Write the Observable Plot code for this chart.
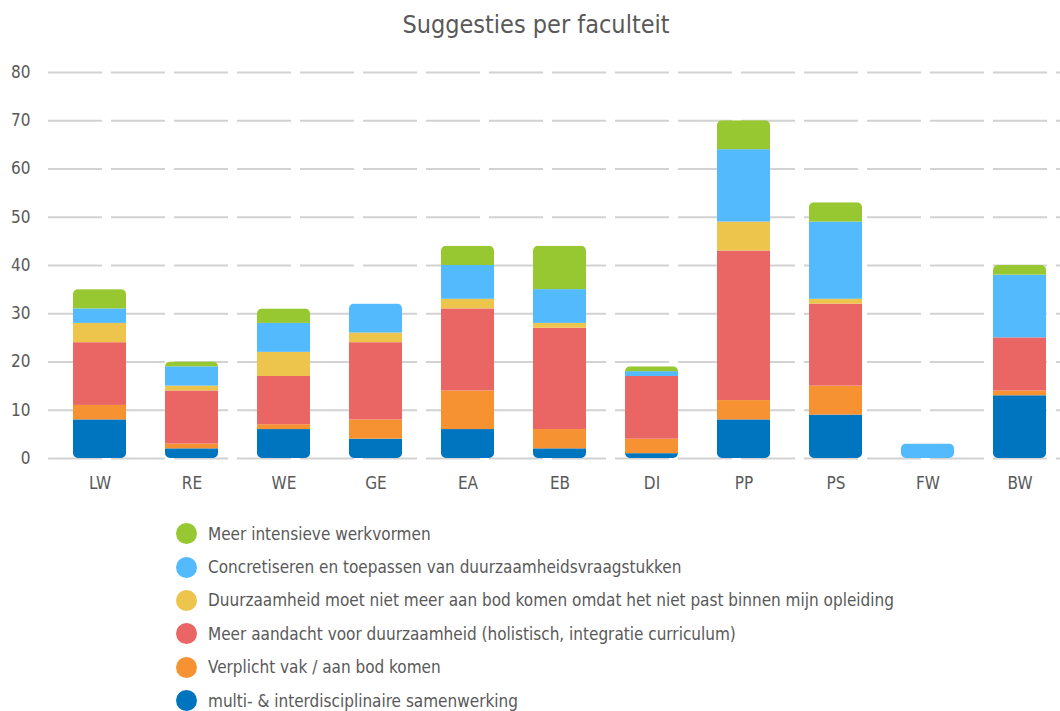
<!DOCTYPE html>
<html>
<head>
<meta charset="utf-8">
<script src="https://cdn.jsdelivr.net/npm/d3@7"></script>
<script src="https://cdn.jsdelivr.net/npm/@observablehq/plot@0.6"></script>
<style>
  body { margin: 0; background: #fff; width: 1060px; height: 711px; overflow: hidden;
         font-family: "DejaVu Sans Condensed", "DejaVu Sans", sans-serif; font-stretch: condensed; color: #595959; }
  #title { height: 50px; line-height: 50px; text-align: center; font-size: 25px; padding-left: 12px; color: #595959; }
  #legend { margin-top: 17px; margin-left: 176px; }
  .row { height: 33.4px; display: flex; align-items: center; font-size: 17px; }
  .dot { width: 21px; height: 21px; border-radius: 50%; margin-right: 11px; flex: none; }
  svg text { font-stretch: condensed; }
</style>
</head>
<body>
<div id="title">Suggesties per faculteit</div>
<div id="chart"></div>
<div id="legend"></div>
<script>
// Categories (faculties)
const faculties = ["LW", "RE", "WE", "GE", "EA", "EB", "DI", "PP", "PS", "FW", "BW"];

// Series names (bottom to top in the stack)
const seriesNames = [
  "multi- & interdisciplinaire samenwerking",
  "Verplicht vak / aan bod komen",
  "Meer aandacht voor duurzaamheid (holistisch, integratie curriculum)",
  "Duurzaamheid moet niet meer aan bod komen omdat het niet past binnen mijn opleiding",
  "Concretiseren en toepassen van duurzaamheidsvraagstukken",
  "Meer intensieve werkvormen"
];
const seriesColors = ["#0075bf", "#f79232", "#e96665", "#edc54d", "#53bafd", "#97c731"];

// Series values per faculty
const multiInterdisciplinair = [8, 2, 6, 4, 6, 2, 1, 8, 9, 0, 13];
const verplichtVak          = [3, 1, 1, 4, 8, 4, 3, 4, 6, 0, 1];
const meerAandacht          = [13, 11, 10, 16, 17, 21, 13, 31, 17, 0, 11];
const nietMeerAanBod        = [4, 1, 5, 2, 2, 1, 0, 6, 1, 0, 0];
const concretiseren         = [3, 4, 6, 6, 7, 7, 1, 15, 16, 3, 13];
const intensieveWerkvormen  = [4, 1, 3, 0, 4, 9, 1, 6, 4, 0, 2];

// Y tick values
const yTicks = [0, 10, 20, 30, 40, 50, 60, 70, 80];

const seriesValues = [multiInterdisciplinair, verplichtVak, meerAandacht, nietMeerAanBod, concretiseren, intensieveWerkvormen];
const data = [];
seriesNames.forEach((s, si) => faculties.forEach((f, fi) => {
  data.push({faculty: f, series: s, value: seriesValues[si][fi]});
}));
const totals = faculties.map((f, fi) => ({faculty: f, total: d3.sum(seriesValues, v => v[fi])}));

const fontStack = '"DejaVu Sans Condensed", "DejaVu Sans", sans-serif';
const svg = Plot.plot({
  width: 1060,
  height: 450,
  marginLeft: 48,
  marginRight: 0,
  marginTop: 22,
  marginBottom: 42,
  style: {fontFamily: fontStack, fontSize: "17px", color: "#595959", background: "#fff"},
  x: {domain: faculties, paddingInner: 0.425, paddingOuter: 0.2, align: 0.63, label: null},
  y: {domain: [0, 80], label: null},
  color: {domain: seriesNames, range: seriesColors},
  marks: [
    Plot.ruleY(yTicks, {stroke: "#d2d2d2", strokeWidth: 2, strokeDasharray: "54,9"}),
    Plot.barY(totals, {x: "faculty", y: "total", rx: 5, ry: 5, fill: "#000001"}),
    Plot.barY(data, {x: "faculty", y: "value", fill: "series", z: "series"}),
    Plot.axisX({tickSize: 0, tickPadding: 18, fontSize: 17}),
    Plot.axisY({ticks: yTicks, tickSize: 0, tickPadding: 18, fontSize: 17})
  ]
});

// Round the outer corners of each stacked bar: use the rounded total bars as a clip path
const clipG = svg.querySelector('g[fill="#000001"]');
const segG = clipG ? clipG.nextElementSibling : null;
if (clipG && segG) {
  const ns = "http://www.w3.org/2000/svg";
  const defs = document.createElementNS(ns, "defs");
  const cp = document.createElementNS(ns, "clipPath");
  cp.setAttribute("id", "barclip");
  cp.setAttribute("clipPathUnits", "userSpaceOnUse");
  clipG.querySelectorAll("rect").forEach(r => {
    const c = document.createElementNS(ns, "rect");
    ["x", "y", "width", "height"].forEach(a => c.setAttribute(a, r.getAttribute(a)));
    c.setAttribute("rx", 5);
    c.setAttribute("ry", 5);
    cp.appendChild(c);
  });
  const t = clipG.getAttribute("transform");
  if (t) cp.setAttribute("transform", t);
  defs.appendChild(cp);
  svg.insertBefore(defs, svg.firstChild);
  segG.setAttribute("clip-path", "url(#barclip)");
  clipG.remove();
}
document.getElementById("chart").appendChild(svg);

// Legend (top to bottom: reverse stack order)
const legend = document.getElementById("legend");
seriesNames.slice().reverse().forEach(name => {
  const row = document.createElement("div");
  row.className = "row";
  const dot = document.createElement("span");
  dot.className = "dot";
  dot.style.background = seriesColors[seriesNames.indexOf(name)];
  const label = document.createElement("span");
  label.textContent = name;
  row.appendChild(dot); row.appendChild(label);
  legend.appendChild(row);
});
</script>
</body>
</html>
